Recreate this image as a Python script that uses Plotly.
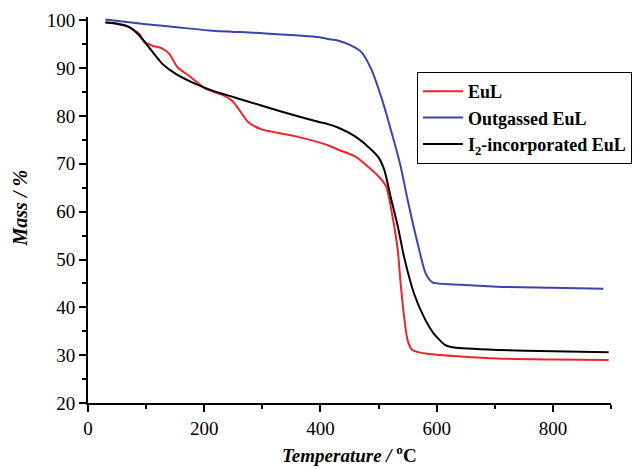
import plotly.graph_objects as go

# EuL (red)
t_eul = [30, 50, 66, 88, 97, 111, 128, 140, 154, 174, 202, 231, 248, 259, 276, 299, 356, 413, 430, 459, 481, 499, 513, 524, 533, 538, 544, 550, 558, 584, 704, 800, 896]
m_eul = [99.5, 99.3, 98.9, 97.2, 95.5, 94.7, 94.1, 93.0, 90.2, 88.4, 85.7, 84.4, 83.2, 81.5, 78.7, 77.2, 75.8, 73.9, 73.0, 71.6, 69.5, 67.5, 65.3, 59.0, 52.0, 45.0, 38.0, 33.1, 31.1, 30.3, 29.3, 29.1, 29.0]

# Outgassed EuL (blue)
t_out = [30, 100, 157, 208, 300, 396, 413, 430, 453, 470, 487, 504, 521, 538, 550, 567, 581, 593, 641, 704, 800, 887]
m_out = [100.2, 99.2, 98.5, 97.9, 97.3, 96.5, 96.1, 95.8, 94.7, 93.4, 89.9, 84.2, 77.2, 69.5, 62.5, 53.5, 47.1, 45.2, 44.7, 44.3, 44.1, 43.9]

# I2-incorporated EuL (black)
t_i2 = [30, 50, 71, 88, 111, 128, 151, 185, 214, 271, 328, 396, 413, 430, 459, 481, 499, 510, 521, 533, 544, 561, 578, 595, 615, 630, 704, 800, 896]
m_i2 = [99.6, 99.3, 98.6, 96.9, 93.4, 90.9, 88.8, 86.7, 85.3, 83.2, 81.1, 78.8, 78.3, 77.6, 75.8, 73.7, 71.5, 68.7, 63.0, 57.0, 50.5, 42.9, 38.0, 34.5, 32.1, 31.6, 31.1, 30.8, 30.6]

names = ["EuL", "Outgassed EuL", "I<sub>2</sub>-incorporated EuL"]
colors = ["#e8262b", "#3a45a8", "#000000"]

fig = go.Figure()
for (t, m), name, c in zip([(t_eul, m_eul), (t_out, m_out), (t_i2, m_i2)], names, colors):
    fig.add_trace(go.Scatter(x=t, y=m, mode="lines", name=name,
                             line=dict(color=c, width=2, shape="spline", smoothing=0.6)))

serif = "Liberation Serif"
axis_common = dict(showline=True, linecolor="black", linewidth=2, ticks="outside",
                   ticklen=7, tickwidth=1.5, tickcolor="black", showgrid=False, zeroline=False,
                   automargin=False,
                   tickfont=dict(family=serif, size=19, color="black"))

L, R, T, B = 88, 24, 17, 66
W, H = 635, 469
pw = W - L - R
ph = H - T - B

fig.update_layout(
    width=W, height=H,
    margin=dict(l=L, r=R, t=T, b=B, autoexpand=False),
    paper_bgcolor="white", plot_bgcolor="white",
    showlegend=True,
    legend=dict(x=(632 - L) / pw, y=(H - B - 72) / ph, xanchor="right", yanchor="top",
                bordercolor="black", borderwidth=1, bgcolor="white",
                font=dict(family=serif, size=18, color="black", weight="bold"),
                tracegroupgap=0, itemwidth=40),
    xaxis=dict(range=[0, 900], dtick=200, tick0=0,
               minor=dict(ticks="outside", dtick=100, ticklen=4, tickwidth=1.5, tickcolor="black"),
               **axis_common),
    yaxis=dict(range=[20, 100.7], dtick=10, tick0=20,
               minor=dict(ticks="outside", dtick=5, ticklen=4, tickwidth=1.5, tickcolor="black"),
               **axis_common),
    annotations=[
        dict(text="<b><i>Temperature /</i> <sup>o</sup>C</b>", xref="paper", yref="paper",
             x=0.5, y=0, xanchor="center", yanchor="bottom", yshift=-(B - 1), showarrow=False,
             font=dict(family=serif, size=19, color="black")),
        dict(text="<b><i>Mass / %</i></b>", xref="paper", yref="paper",
             x=0, y=0.504, xanchor="center", yanchor="middle", xshift=-68, textangle=-90,
             showarrow=False, font=dict(family=serif, size=20, color="black")),
    ],
)

fig.write_html("out.html", config={"displayModeBar": False},
               post_script="document.body.style.margin='0';")
